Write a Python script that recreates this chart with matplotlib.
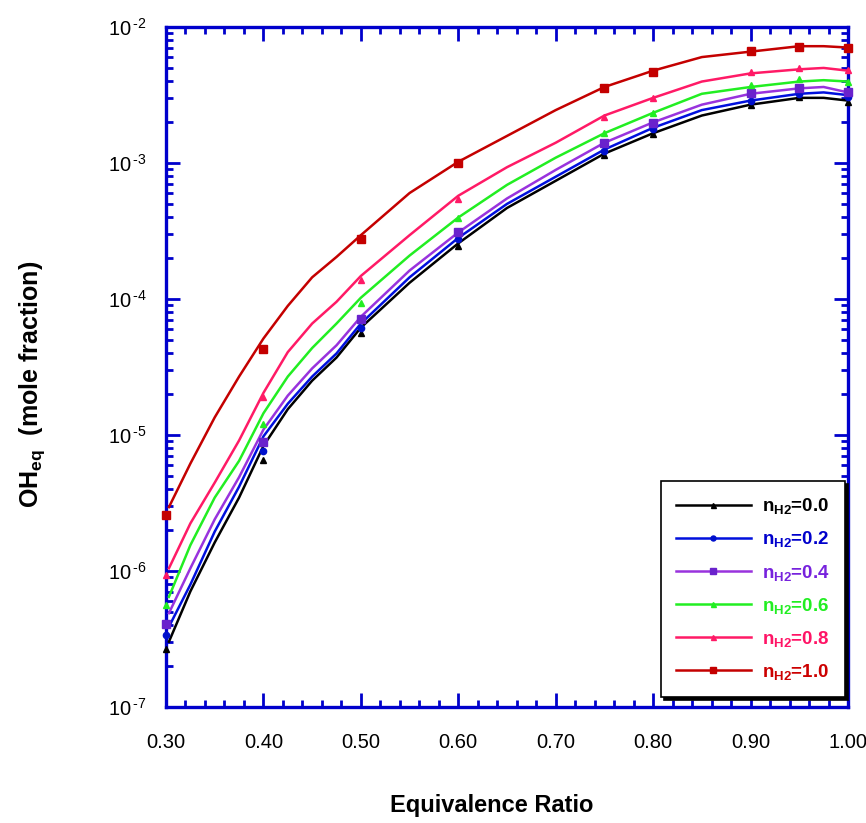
import numpy as np
import matplotlib
matplotlib.use("Agg")
import matplotlib.pyplot as plt
from matplotlib.ticker import FixedLocator, MultipleLocator, FuncFormatter, LogLocator, NullFormatter

plt.rcParams['font.family'] = ['Liberation Sans', 'DejaVu Sans']
plt.rcParams['mathtext.fontset'] = 'custom'
plt.rcParams['mathtext.rm'] = 'Liberation Sans'
plt.rcParams['mathtext.bf'] = 'Liberation Sans:bold'
plt.rcParams['mathtext.it'] = 'Liberation Sans:italic'

# equivalence ratio where the curves were read (log10 of OH mole fraction)
phi_line = [0.303, 0.325, 0.35, 0.375, 0.40, 0.425, 0.45, 0.475, 0.50, 0.55,
            0.60, 0.65, 0.70, 0.75, 0.80, 0.85, 0.90, 0.95, 0.975, 1.00]
log_00 = [-6.52, -6.15, -5.79, -5.46, -5.08, -4.81, -4.60, -4.43, -4.21, -3.88,
          -3.59, -3.33, -3.13, -2.93, -2.78, -2.65, -2.57, -2.52, -2.52, -2.54]
log_02 = [-6.41, -6.10, -5.71, -5.38, -5.01, -4.77, -4.57, -4.40, -4.18, -3.84,
          -3.55, -3.30, -3.10, -2.90, -2.74, -2.61, -2.54, -2.49, -2.48, -2.50]
log_04 = [-6.31, -5.98, -5.62, -5.31, -4.96, -4.71, -4.51, -4.34, -4.13, -3.79,
          -3.51, -3.26, -3.05, -2.85, -2.70, -2.57, -2.49, -2.45, -2.44, -2.48]
log_06 = [-6.19, -5.81, -5.46, -5.19, -4.84, -4.57, -4.36, -4.18, -3.99, -3.68,
          -3.40, -3.16, -2.96, -2.78, -2.63, -2.49, -2.44, -2.40, -2.39, -2.40]
log_08 = [-5.98, -5.65, -5.35, -5.04, -4.69, -4.39, -4.18, -4.02, -3.83, -3.53,
          -3.24, -3.03, -2.85, -2.65, -2.52, -2.40, -2.34, -2.31, -2.30, -2.32]
log_10 = [-5.53, -5.21, -4.87, -4.57, -4.29, -4.05, -3.84, -3.69, -3.53, -3.22,
          -2.99, -2.80, -2.61, -2.44, -2.32, -2.22, -2.18, -2.14, -2.14, -2.15]

# marker points
phi_mark = [0.30, 0.40, 0.50, 0.60, 0.75, 0.80, 0.90, 0.95, 1.00]
mark_00 = [2.67e-7, 6.5e-6, 5.6e-5, 2.45e-4, 1.15e-3, 1.63e-3, 2.67e-3, 3.05e-3, 2.8e-3]
mark_02 = [3.4e-7, 7.6e-6, 6.1e-5, 2.76e-4, 1.22e-3, 1.78e-3, 2.86e-3, 3.2e-3, 3.05e-3]
mark_04 = [4.07e-7, 8.9e-6, 7.1e-5, 3.1e-4, 1.4e-3, 1.97e-3, 3.27e-3, 3.56e-3, 3.33e-3]
mark_06 = [5.6e-7, 1.2e-5, 9.3e-5, 3.94e-4, 1.66e-3, 2.33e-3, 3.75e-3, 4.15e-3, 3.95e-3]
mark_08 = [9.3e-7, 1.9e-5, 1.38e-4, 5.43e-4, 2.18e-3, 3.0e-3, 4.67e-3, 5.0e-3, 4.83e-3]
mark_10 = [2.58e-6, 4.28e-5, 2.76e-4, 1.0e-3, 3.55e-3, 4.67e-3, 6.67e-3, 7.1e-3, 7.0e-3]

labels = ['0.0', '0.2', '0.4', '0.6', '0.8', '1.0']
x_ticks = [0.30, 0.40, 0.50, 0.60, 0.70, 0.80, 0.90, 1.00]

series = [
    (log_00, mark_00, '#000000', '#000000', '^', 4.5),
    (log_02, mark_02, '#0010dd', '#0010cc', 'o', 4.5),
    (log_04, mark_04, '#9933dd', '#6a22cc', 's', 5.5),
    (log_06, mark_06, '#22ee22', '#22ee22', '^', 4.5),
    (log_08, mark_08, '#ff1a66', '#ff1a66', '^', 4.5),
    (log_10, mark_10, '#c40000', '#c40000', 's', 5.5),
]

fig = plt.figure(figsize=(8.66, 8.23), dpi=100)
ax = fig.add_axes([0.1917, 0.141, 0.7875, 0.826])

handles = []
for (ly, my, lc, mc, mk, ms), lab in zip(series, labels):
    ax.plot(phi_line, 10 ** np.array(ly), color=lc, lw=1.8, zorder=3)
    ax.plot(phi_mark, my, linestyle='none', marker=mk, ms=ms, color=mc, zorder=4,
            clip_on=False)
    h, = ax.plot([], [], color=lc, lw=1.8, marker=mk, ms=ms * 0.8, mfc=mc, mec=mc,
                 label=r'$\mathbf{n_{H2}}$' + '=' + lab)
    handles.append(h)

ax.set_yscale('log')
ax.set_xlim(0.30, 1.00)
ax.set_ylim(1e-7, 1e-2)

ax.xaxis.set_major_locator(FixedLocator(x_ticks))
ax.xaxis.set_minor_locator(MultipleLocator(0.02))
ax.xaxis.set_major_formatter(FuncFormatter(lambda v, p: '%.2f' % v))
ax.yaxis.set_major_locator(LogLocator(base=10, numticks=10))
ax.yaxis.set_minor_locator(LogLocator(base=10, subs=np.arange(2, 10), numticks=20))
ax.yaxis.set_minor_formatter(NullFormatter())
ax.yaxis.set_major_formatter(FuncFormatter(
    lambda v, p: r'$\mathregular{10^{\,\text{-}%d}}$' % abs(int(round(np.log10(v))))))

blue = '#0000cc'
for s in ax.spines.values():
    s.set_color(blue)
    s.set_linewidth(2.4)
ax.tick_params(which='both', direction='in', top=True, right=True, color=blue,
               width=2.0, labelsize=14.5)
ax.tick_params(which='major', length=10)
ax.tick_params(which='minor', length=5)
ax.tick_params(axis='x', pad=19)
ax.tick_params(axis='y', pad=14)

ax.set_xlabel('Equivalence Ratio', fontsize=17, fontweight='bold')
ax.xaxis.set_label_coords(0.478, -0.128)
ax.set_ylabel(r'$\mathbf{OH_{eq}}$  (mole fraction)', fontsize=18, fontweight='bold')
ax.yaxis.set_label_coords(-0.175, 0.474)

leg = ax.legend(handles=handles, loc='lower right', bbox_to_anchor=(0.9956, 0.0147),
                frameon=True, fancybox=False, shadow={'color': 'k', 'alpha': 1.0},
                handlelength=4.0, borderpad=0.8, labelspacing=0.7, borderaxespad=0,
                numpoints=1, handletextpad=0.6, prop={'weight': 'bold', 'size': 13.5})
leg.get_frame().set_edgecolor('k')
leg.get_frame().set_linewidth(1.2)
text_colors = ['#000000', '#0000cc', '#7722dd', '#22ee22', '#ff1466', '#cc0000']
for t, c in zip(leg.get_texts(), text_colors):
    t.set_color(c)

fig.savefig('out.png', dpi=100)
